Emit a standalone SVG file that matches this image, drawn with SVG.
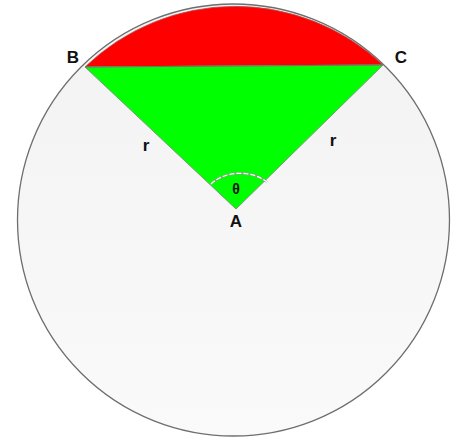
<svg xmlns="http://www.w3.org/2000/svg" width="452" height="437" viewBox="0 0 452 437">
<defs>
<linearGradient id="bg" x1="0" y1="0" x2="0" y2="1">
<stop offset="0" stop-color="#f2f2f2"/>
<stop offset="1" stop-color="#fafafa"/>
</linearGradient>
<style>
.lbl{font-family:"Liberation Sans",Arial,sans-serif;font-weight:bold;fill:#111;text-anchor:middle}
</style>
</defs>
<rect width="452" height="437" fill="#ffffff"/>
<g id="circle">
<circle cx="233.5" cy="220" r="216" fill="url(#bg)" stroke="#6e6e6e" stroke-width="1.3"/>
</g>
<g id="segment">
<path d="M85,67 A216,216 0 0 1 383,65 Z" fill="#ff0000" stroke="#b05050" stroke-width="0.8"/>
</g>
<g id="sector">
<path d="M85,67 L383,65 L236,209 Z" fill="#00ff00" stroke="#7a9a7a" stroke-width="1"/>
</g>
<g id="connectors">
<line x1="85" y1="67" x2="383" y2="65" stroke="#6a7a5a" stroke-width="1.2"/>
<path d="M211,184 A36,26 0 0 1 267,182" fill="none" stroke="#8aa08a" stroke-width="2.2"/>
<path d="M211,184 A36,26 0 0 1 267,182" fill="none" stroke="#ffffff" stroke-width="1.2" stroke-dasharray="5,2"/>
</g>
<g id="labels">
<text class="lbl" x="73" y="63" font-size="17">B</text>
<text class="lbl" x="401" y="63" font-size="17">C</text>
<text class="lbl" x="236" y="227" font-size="17">A</text>
<text class="lbl" x="146" y="151" font-size="17">r</text>
<text class="lbl" x="333" y="146" font-size="17">r</text>
<text class="lbl" x="236" y="194" font-size="14" font-weight="normal">θ</text>
</g>
</svg>
